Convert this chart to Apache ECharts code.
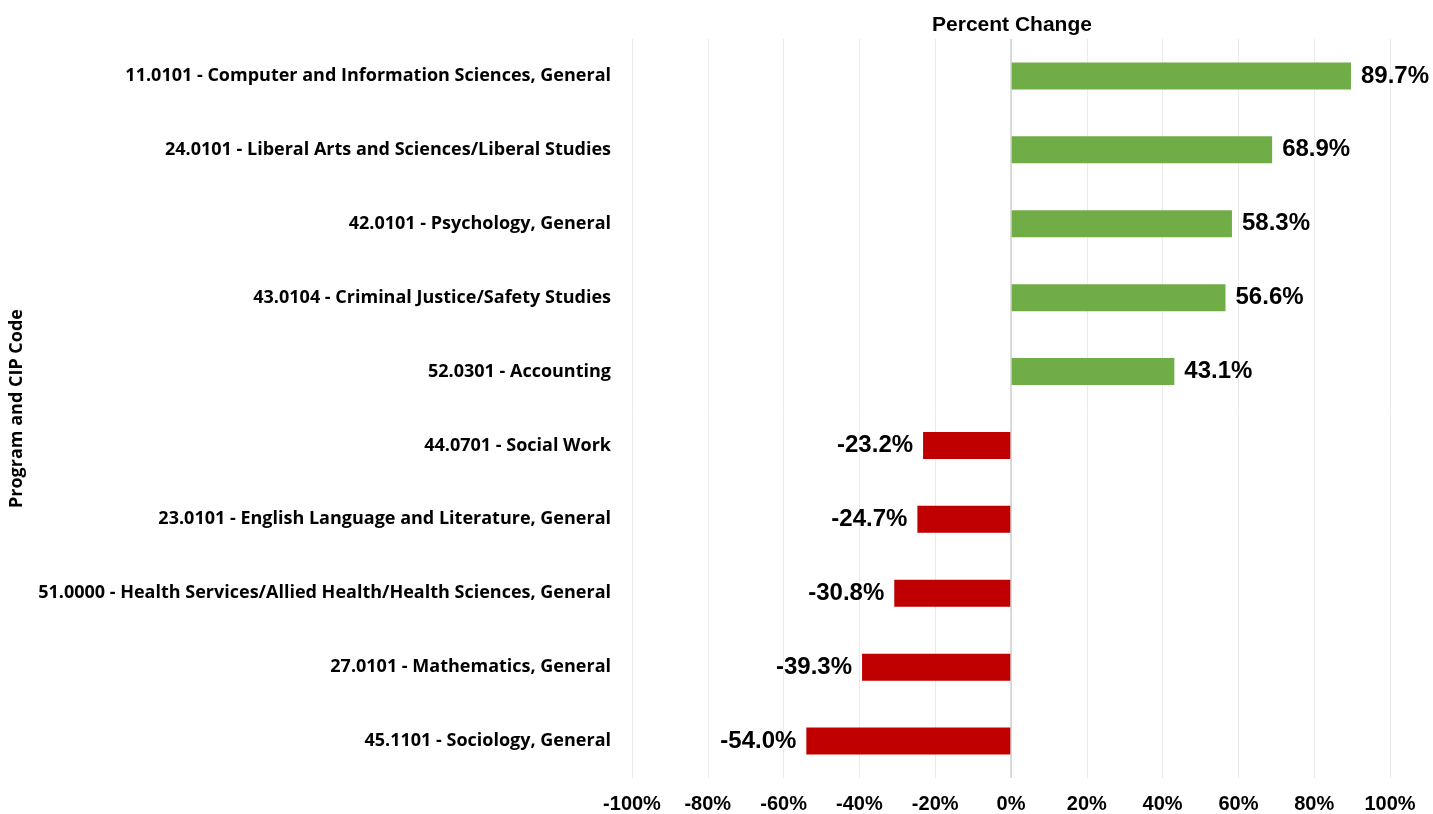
<!DOCTYPE html>
<html><head><meta charset="utf-8">
<script src="https://cdn.jsdelivr.net/npm/echarts@6/dist/echarts.min.js"></script>
<style>html,body{margin:0;padding:0;background:#fff}#c{width:1433px;height:814px}</style>
</head><body><div id="c"></div>
<script>
const categories = [
  "11.0101 - Computer and Information Sciences, General",
  "24.0101 - Liberal Arts and Sciences/Liberal Studies",
  "42.0101 - Psychology, General",
  "43.0104 - Criminal Justice/Safety Studies",
  "52.0301 - Accounting",
  "44.0701 - Social Work",
  "23.0101 - English Language and Literature, General",
  "51.0000 - Health Services/Allied Health/Health Sciences, General",
  "27.0101 - Mathematics, General",
  "45.1101 - Sociology, General"
];
const percentChange = [89.7, 68.9, 58.3, 56.6, 43.1, -23.2, -24.7, -30.8, -39.3, -54.0];
const xTicks = [-100, -80, -60, -40, -20, 0, 20, 40, 60, 80, 100];

const chart = echarts.init(document.getElementById('c'), null, {renderer: 'canvas'});
const data = percentChange.map(v => ({
  value: v,
  itemStyle: {color: v >= 0 ? '#70AD47' : '#C00000'},
  label: {position: v >= 0 ? 'right' : 'left'}
}));
chart.setOption({
  animation: false,
  grid: {left: 632, right: 43, top: 39, bottom: 34, containLabel: false},
  title: {
    text: 'Percent Change', left: 1007, top: 10, textAlign: 'center',
    textStyle: {fontFamily: 'Liberation Sans, Arial', fontWeight: 'bold', fontSize: 21, color: '#000'}
  },
  xAxis: {
    type: 'value', min: xTicks[0], max: xTicks[xTicks.length - 1], interval: 20,
    axisLine: {show: false}, axisTick: {show: false},
    splitLine: {show: true, lineStyle: {color: '#EBEBEB', width: 1}},
    axisLabel: {
      formatter: v => v + '%', margin: 16,
      fontFamily: 'Liberation Sans, Arial', fontWeight: 'bold', fontSize: 20, color: '#000'
    }
  },
  yAxis: {
    type: 'category', data: categories, inverse: true,
    name: 'Program and CIP Code', nameLocation: 'middle', nameGap: 606, nameRotate: 90,
    nameTextStyle: {fontFamily: 'Open Sans', fontWeight: 'bold', fontSize: 18, color: '#000'},
    axisLine: {show: false}, axisTick: {show: false},
    axisLabel: {
      margin: 21, fontFamily: 'Open Sans', fontWeight: 'bold', fontSize: 18, color: '#000'
    }
  },
  series: [{
    type: 'bar', data: data, barWidth: 27,
    label: {
      show: true, distance: 10, formatter: p => p.value.toFixed(1) + '%',
      fontFamily: 'Liberation Sans, Arial', fontWeight: 'bold', fontSize: 24, color: '#000'
    },
    markLine: {
      silent: true, symbol: 'none', label: {show: false},
      lineStyle: {color: '#D0D0D0', type: 'solid', width: 1.5},
      data: [{xAxis: 0}]
    }
  }]
});
</script></body></html>
